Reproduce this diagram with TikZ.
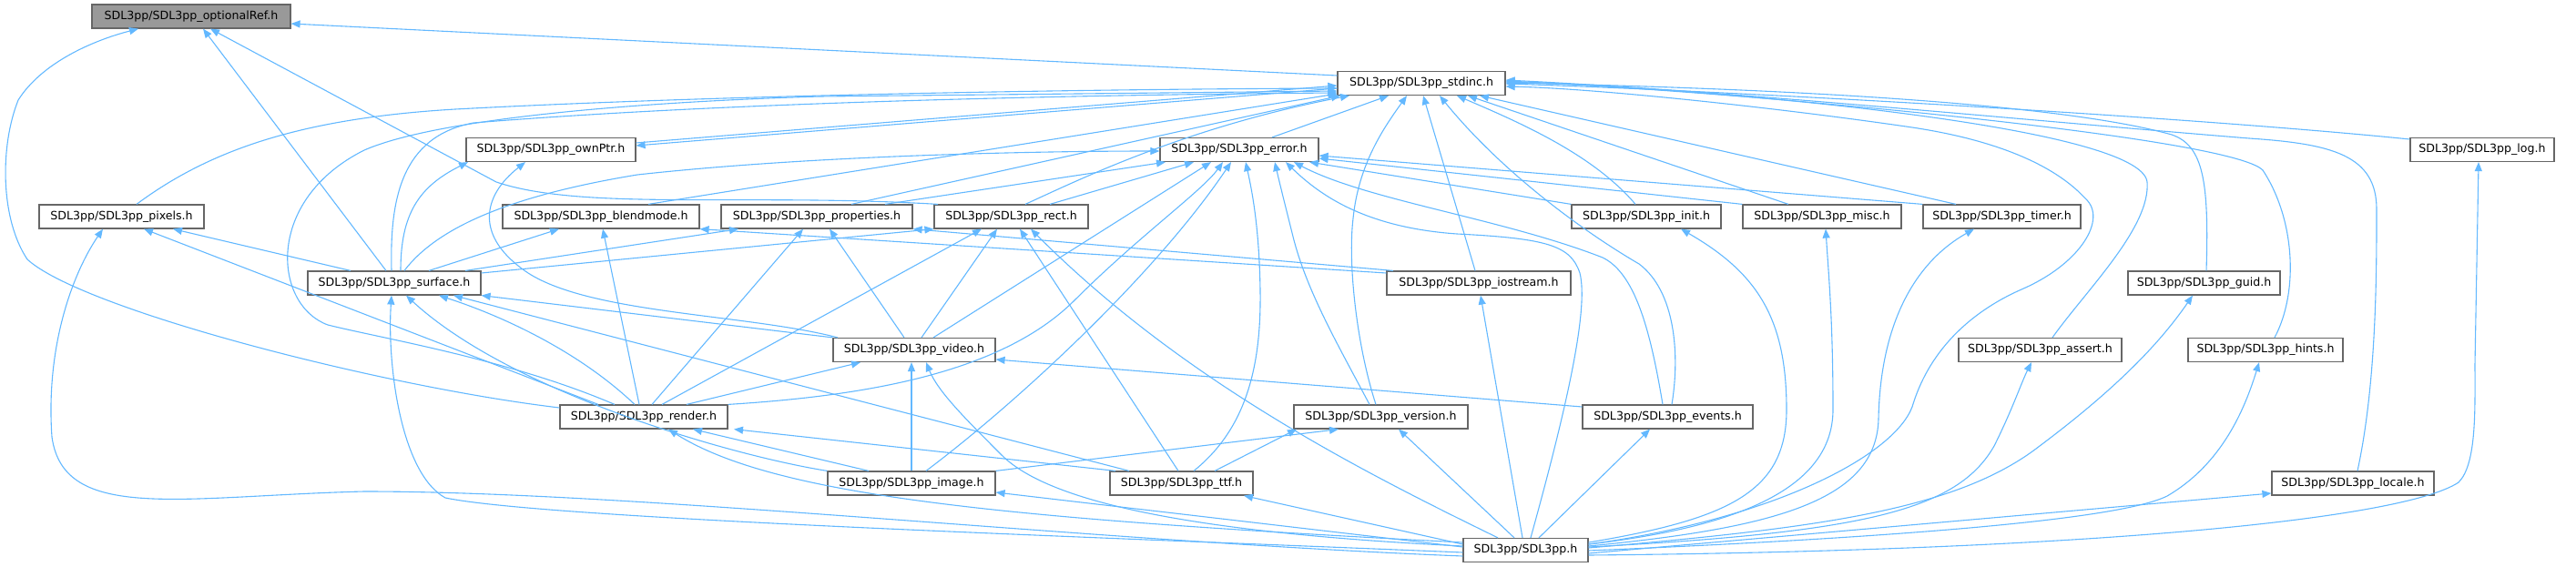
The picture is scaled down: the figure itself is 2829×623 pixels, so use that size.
\documentclass[tikz,border=0pt]{standalone}
\usepackage{fontspec}
\setmainfont{DejaVu Sans}
\usetikzlibrary{arrows.meta}
\definecolor{edgeblue}{HTML}{63B8FF}
\definecolor{boxgray}{HTML}{666666}
\definecolor{rootfill}{HTML}{999999}
\begin{document}
\begin{tikzpicture}[x=1pt,y=-1pt,
  box/.style={draw=boxgray, fill=white, line width=1.2pt, minimum height=26pt, inner sep=0pt,
    font=\fontsize{12.6pt}{15pt}\selectfont},
  root/.style={box, fill=rootfill},
  edg/.style={draw=edgeblue, line width=1.1pt, -{Triangle[length=10pt,width=8pt]}}]
\useasboundingbox (0,0) rectangle (2829,623);
% nodes
\node[root, minimum width=218pt] (O) at (210,18) {SDL3pp/SDL3pp\_optionalRef.h};
\node[box, minimum width=184pt] (S) at (1561,91.5) {SDL3pp/SDL3pp\_stdinc.h};
\node[box, minimum width=186pt] (P) at (605,164.5) {SDL3pp/SDL3pp\_ownPtr.h};
\node[box, minimum width=174pt] (E) at (1361,164.5) {SDL3pp/SDL3pp\_error.h};
\node[box, minimum width=158pt] (LG) at (2726,164.5) {SDL3pp/SDL3pp\_log.h};
\node[box, minimum width=181pt] (PX) at (133.5,238) {SDL3pp/SDL3pp\_pixels.h};
\node[box, minimum width=216pt] (B) at (660,238) {SDL3pp/SDL3pp\_blendmode.h};
\node[box, minimum width=210pt] (PR) at (897,238) {SDL3pp/SDL3pp\_properties.h};
\node[box, minimum width=169pt] (R) at (1110.5,238) {SDL3pp/SDL3pp\_rect.h};
\node[box, minimum width=164pt] (I) at (1808,238) {SDL3pp/SDL3pp\_init.h};
\node[box, minimum width=174pt] (M) at (2001,238) {SDL3pp/SDL3pp\_misc.h};
\node[box, minimum width=173pt] (T) at (2198.5,238) {SDL3pp/SDL3pp\_timer.h};
\node[box, minimum width=190pt] (SF) at (433,311) {SDL3pp/SDL3pp\_surface.h};
\node[box, minimum width=202pt] (IO) at (1624,311) {SDL3pp/SDL3pp\_iostream.h};
\node[box, minimum width=167pt] (G) at (2420.5,311) {SDL3pp/SDL3pp\_guid.h};
\node[box, minimum width=178pt] (V) at (1004,384.5) {SDL3pp/SDL3pp\_video.h};
\node[box, minimum width=179pt] (A) at (2240.5,384.5) {SDL3pp/SDL3pp\_assert.h};
\node[box, minimum width=170pt] (H) at (2488,384.5) {SDL3pp/SDL3pp\_hints.h};
\node[box, minimum width=184pt] (RD) at (707,458) {SDL3pp/SDL3pp\_render.h};
\node[box, minimum width=191pt] (VR) at (1516.5,458) {SDL3pp/SDL3pp\_version.h};
\node[box, minimum width=187pt] (EV) at (1831.5,458) {SDL3pp/SDL3pp\_events.h};
\node[box, minimum width=184pt] (IM) at (1001,531) {SDL3pp/SDL3pp\_image.h};
\node[box, minimum width=157pt] (TT) at (1297.5,531) {SDL3pp/SDL3pp\_ttf.h};
\node[box, minimum width=178pt] (LC) at (2584,531) {SDL3pp/SDL3pp\_locale.h};
\node[box, minimum width=137pt] (ALL) at (1675.5,604.5) {SDL3pp/SDL3pp.h};
% optionalRef
\draw[edg] (S.west |- 0,83) -- (O.east |- 0,26);
\draw[edg] (SF.north -| 424,0) -- (O.south -| 223,0);
\draw[edg] (R.north -| 1030,0) .. controls (820,212) and (640,232) .. (545,200) -- (O.south -| 231,0);
\draw[edg] (RD.west |- 0,448) .. controls (420,425) and (90,340) .. (30,285) .. controls (0,240) and (0,160) .. (20,110) .. controls (45,70) and (100,45) .. (O.south -| 152,0);
% stdinc
\draw[edg] (P.east |- 0,157) -- (S.west |- 0,94);
\draw[edg] (S.west |- 0,97) -- (P.east |- 0,160);
\draw[edg] (PX.north -| 150,0) .. controls (230,165) and (330,130) .. (500,120) .. controls (800,104) and (1200,98) .. (S.west |- 0,97);
\draw[edg] (RD.north -| 675,0) .. controls (560,395) and (420,372) .. (360,357) .. controls (300,335) and (290,220) .. (400,165) .. controls (480,130) and (700,112) .. (900,106) -- (S.west |- 0,100);
\draw[edg] (SF.north -| 430,0) .. controls (428,220) and (440,150) .. (520,135) .. controls (800,112) and (1200,104) .. (S.west |- 0,102);
\draw[edg] (B.north -| 712,0) -- (S.west |- 0,103);
\draw[edg] (PR.north -| 935,0) -- (S.south -| 1472,0);
\draw[edg] (R.north -| 1126,0) .. controls (1180,200) and (1300,140) .. (S.south -| 1482,0);
\draw[edg] (E.north -| 1397,0) -- (S.south -| 1525,0);
\draw[edg] (VR.north -| 1511,0) .. controls (1490,380) and (1480,290) .. (1486,240) .. controls (1492,180) and (1520,140) .. (S.south -| 1545,0);
\draw[edg] (IO.north -| 1620,0) -- (S.south -| 1563,0);
\draw[edg] (EV.north -| 1836,0) .. controls (1845,390) and (1840,320) .. (1800,290) .. controls (1740,255) and (1650,190) .. (S.south -| 1581,0);
\draw[edg] (I.north -| 1796,0) .. controls (1750,170) and (1670,135) .. (S.south -| 1600,0);
\draw[edg] (M.north -| 1964,0) -- (S.south -| 1612,0);
\draw[edg] (T.north -| 2148,0) -- (S.south -| 1625,0);
\draw[edg] (LG.west |- 0,153) .. controls (2400,128) and (1900,100) .. (S.east |- 0,92);
\draw[edg] (G.north -| 2423,0) .. controls (2426,200) and (2420,160) .. (2385,148) .. controls (2250,110) and (1900,96) .. (S.east |- 0,91);
\draw[edg] (A.north -| 2254,0) .. controls (2290,320) and (2362,250) .. (2358,200) .. controls (2352,140) and (1900,98) .. (S.east |- 0,90);
\draw[edg] (H.north -| 2498,0) .. controls (2525,320) and (2520,240) .. (2485,187) .. controls (2450,150) and (1900,100) .. (S.east |- 0,89);
\draw[edg] (LC.north -| 2589,0) .. controls (2610,420) and (2610,300) .. (2610,230) .. controls (2610,170) and (2560,158) .. (2470,152) .. controls (2200,130) and (1900,100) .. (S.east |- 0,88);
\draw[edg] (ALL.east |- 0,598) .. controls (1950,570) and (2080,500) .. (2100,447) .. controls (2120,380) and (2170,340) .. (2220,318) .. controls (2285,290) and (2315,240) .. (2290,218) .. controls (2260,185) and (2200,155) .. (2100,140) .. controls (1950,118) and (1750,97) .. (S.east |- 0,95);
% ownPtr
\draw[edg] (SF.north -| 440,0) .. controls (440,235) and (460,205) .. (P.south -| 514,0);
\draw[edg] (V.north -| 920,0) .. controls (820,345) and (650,345) .. (580,300) .. controls (520,260) and (530,215) .. (P.south -| 577,0);
% error
\draw[edg] (SF.north -| 444,0) .. controls (480,250) and (560,215) .. (700,192) .. controls (900,170) and (1150,166) .. (E.west |- 0,166);
\draw[edg] (PR.north -| 972,0) -- (E.south -| 1280,0);
\draw[edg] (R.north -| 1153,0) -- (E.south -| 1311,0);
\draw[edg] (V.north -| 1025,0) -- (E.south -| 1330,0);
\draw[edg] (RD.north east) .. controls (950,435) and (1100,410) .. (1180,330) .. controls (1250,260) and (1320,210) .. (E.south -| 1343,0);
\draw[edg] (IM.north -| 1017,0) .. controls (1120,440) and (1270,300) .. (E.south -| 1352,0);
\draw[edg] (TT.north -| 1311,0) .. controls (1370,470) and (1385,400) .. (1384,320) .. controls (1383,250) and (1375,210) .. (E.south -| 1368,0);
\draw[edg] (VR.north -| 1504,0) .. controls (1470,380) and (1435,320) .. (1420,260) .. controls (1410,220) and (1405,200) .. (E.south -| 1400,0);
\draw[edg] (EV.north -| 1826,0) .. controls (1812,360) and (1795,300) .. (1760,283) .. controls (1650,240) and (1500,220) .. (E.south -| 1421,0);
\draw[edg] (ALL.north -| 1681,0) .. controls (1720,450) and (1745,340) .. (1735,300) .. controls (1725,270) and (1700,262) .. (1600,257) .. controls (1500,250) and (1450,215) .. (E.south -| 1412,0);
\draw[edg] (I.north west) -- (E.south -| 1438,0);
\draw[edg] (M.north west) -- (E.east |- 0,174);
\draw[edg] (T.north west) -- (E.east |- 0,171);
% pixels
\draw[edg] (SF.north -| 385,0) -- (PX.south -| 190,0);
\draw[edg] (RD.north -| 657,0) -- (PX.south -| 158,0);
\draw[edg] (ALL.west |- 0,611) .. controls (1200,595) and (700,540) .. (400,540) .. controls (200,545) and (70,575) .. (57,480) .. controls (50,380) and (80,300) .. (PX.south -| 113,0);
% blendmode
\draw[edg] (SF.north -| 471,0) -- (B.south -| 614,0);
\draw[edg] (RD.north -| 702,0) -- (B.south -| 662,0);
\draw[edg] (IO.west |- 0,300) -- (B.south east);
% properties
\draw[edg] (SF.north -| 511,0) -- (PR.south -| 811,0);
\draw[edg] (RD.north -| 716,0) -- (PR.south -| 882,0);
\draw[edg] (V.north -| 993,0) -- (PR.south -| 911,0);
\draw[edg] (IO.north -| 1530,0) -- (PR.south east);
% rect
\draw[edg] (SF.east |- 0,300) -- (R.south west);
\draw[edg] (V.north -| 1012,0) -- (R.south -| 1095,0);
\draw[edg] (RD.north -| 727,0) -- (R.south -| 1078,0);
\draw[edg] (TT.north -| 1294,0) -- (R.south -| 1120,0);
\draw[edg] (ALL.north -| 1645,0) .. controls (1500,520) and (1300,420) .. (R.south -| 1132,0);
% surface
\draw[edg] (RD.north -| 697,0) .. controls (640,390) and (560,350) .. (SF.south -| 482,0);
\draw[edg] (TT.north -| 1240,0) -- (SF.south -| 498,0);
\draw[edg] (V.north west) -- (SF.south east);
\draw[edg] (IM.north west) .. controls (800,500) and (560,430) .. (SF.south -| 446,0);
\draw[edg] (ALL.west |- 0,607) .. controls (1200,590) and (600,570) .. (489,547) .. controls (440,520) and (425,400) .. (SF.south -| 430,0);
% video
\draw[edg] (RD.north -| 754,0) -- (V.south -| 945,0);
\draw[edg] (IM.north -| 1001,0) -- (V.south -| 1001,0);
\draw[edg] (EV.west |- 0,447) -- (V.east |- 0,395);
\draw[edg] (ALL.west |- 0,600) .. controls (1300,585) and (1150,550) .. (1100,500) .. controls (1060,460) and (1030,430) .. (V.south -| 1017,0);
% render
\draw[edg] (IM.north -| 954,0) -- (RD.south -| 761,0);
\draw[edg] (TT.north -| 1225,0) -- (RD.south -| 806,0);
\draw[edg] (ALL.west |- 0,596) .. controls (1100,570) and (850,545) .. (RD.south -| 734,0);
% version
\draw[edg] (IM.north east) -- (VR.south -| 1470,0);
\draw[edg] (TT.north -| 1334,0) -- (VR.south -| 1424,0);
\draw[edg] (ALL.north -| 1663,0) -- (VR.south -| 1536,0);
% others from SDL3pp.h
\draw[edg] (ALL.north -| 1690,0) -- (EV.south -| 1812,0);
\draw[edg] (ALL.north -| 1672,0) -- (IO.south -| 1626,0);
\draw[edg] (ALL.west |- 0,601) -- (IM.east |- 0,541);
\draw[edg] (ALL.west |- 0,598) -- (TT.south -| 1366,0);
\draw[edg] (ALL.east |- 0,596) .. controls (1900,570) and (1962,540) .. (1962,450) .. controls (1962,350) and (1930,300) .. (I.south -| 1846,0);
\draw[edg] (ALL.east |- 0,598) .. controls (1900,580) and (2013,540) .. (2013,450) .. controls (2013,350) and (2008,300) .. (M.south -| 2005,0);
\draw[edg] (ALL.east |- 0,600) .. controls (1950,580) and (2061,550) .. (2063,460) .. controls (2065,360) and (2100,290) .. (T.south -| 2168,0);
\draw[edg] (ALL.east |- 0,602) .. controls (2000,580) and (2150,560) .. (2240,490) .. controls (2320,430) and (2370,380) .. (G.south -| 2408,0);
\draw[edg] (ALL.east |- 0,601) .. controls (2050,585) and (2150,560) .. (2190,490) .. controls (2210,450) and (2220,420) .. (A.south -| 2231,0);
\draw[edg] (ALL.east |- 0,605) .. controls (2100,590) and (2330,570) .. (2380,545) .. controls (2440,510) and (2465,450) .. (H.south -| 2481,0);
\draw[edg] (ALL.east |- 0,608) -- (LC.west |- 0,542);
\draw[edg] (ALL.east |- 0,610) .. controls (2300,605) and (2640,570) .. (2700,530) .. controls (2720,510) and (2718,450) .. (2718,400) -- (LG.south -| 2722,0);
\end{tikzpicture}
\end{document}
